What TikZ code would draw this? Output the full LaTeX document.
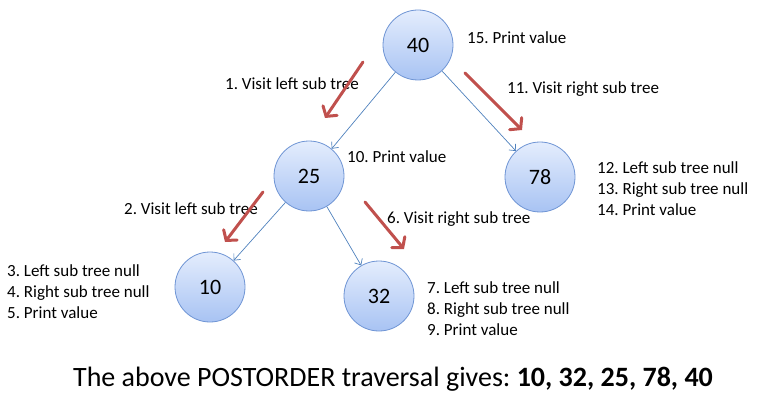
\documentclass[tikz,border=0pt]{standalone}
\usepackage{fontspec}
\setmainfont{Carlito}
\frenchspacing
\usetikzlibrary{arrows.meta}

\definecolor{nodeborder}{RGB}{110,148,212}
\definecolor{nodetop}{RGB}{228,237,253}
\definecolor{nodebottom}{RGB}{168,195,243}
\definecolor{edgeblue}{RGB}{79,129,189}
\definecolor{hintred}{RGB}{192,80,77}

\begin{document}
\begin{tikzpicture}
[x=1pt,y=-1pt,
treenode/.style={circle, draw=nodeborder, thick, top color=nodetop,
bottom color=nodebottom, minimum size=70pt, inner sep=0pt,
font=\fontsize{22}{26}\selectfont},
note/.style ={anchor=base west, inner sep=0pt, align=left,
font=\fontsize{17}{21}\selectfont},
edge/.style ={draw=edgeblue, line width=0.7pt,
-{Straight Barb[length=5pt,width=9pt]}},
hint/.style ={draw=hintred, line width=3pt, line cap=round,
-{Straight Barb[length=7pt,width=17pt,line cap=round]}}]
\path[use as bounding box] (0,0) rectangle (762,406);
% tree nodes
\node [treenode] (n40) at (418,45)  {40};
\node [treenode] (n25) at (309,176) {25};
\node [treenode] (n78) at (540,177) {78};
\node [treenode] (n10) at (210,287) {10};
\node [treenode] (n32) at (379,296) {32};
% steps (multi-line notes sit on their last baseline)
\node [note] (s15)  at (467,44)  {15. Print value};
\node [note] (s1)   at (225,90)  {1. Visit left sub tree};
\node [note] (s11)  at (507,94)  {11. Visit right sub tree};
\node [note] (s10)  at (347,163) {10. Print value};
\node [note] (s2)   at (124,214) {2. Visit left sub tree};
\node [note] (s6)   at (387,223) {6. Visit right sub tree};
\node [note] (s12)  at (597,215) {12. Left sub tree null\\13. Right sub tree null\\14. Print value};
\node [note] (s3)   at (7,318)   {3. Left sub tree null\\4. Right sub tree null\\5. Print value};
\node [note] (s7)   at (427,335) {7. Left sub tree null\\8. Right sub tree null\\9. Print value};
\node [anchor=base, inner sep=0pt, font=\fontsize{28}{32}\selectfont]
  (result) at (393,386) {The above POSTORDER traversal gives: \textbf{10, 32, 25, 78, 40}};
% hint arrow ends
\coordinate (h1a) at (363,62);  \coordinate (h1b) at (325,118);
\coordinate (h11a) at (465,73); \coordinate (h11b) at (522,130);
\coordinate (h2a) at (263,192); \coordinate (h2b) at (225,242);
\coordinate (h6a) at (365,202); \coordinate (h6b) at (404,249);
\begin{scope}[every path/.style=edge]
\path (n40) -- (n25);
\path (n40) -- (n78);
\path (n25) -- (n10);
\path (n25) -- (n32);
\end{scope}
\begin{scope}[every path/.style=hint]
\path (h1a) -- (h1b);
\path (h11a) -- (h11b);
\path (h2a) -- (h2b);
\path (h6a) -- (h6b);
\end{scope}
\end{tikzpicture}
\end{document}
